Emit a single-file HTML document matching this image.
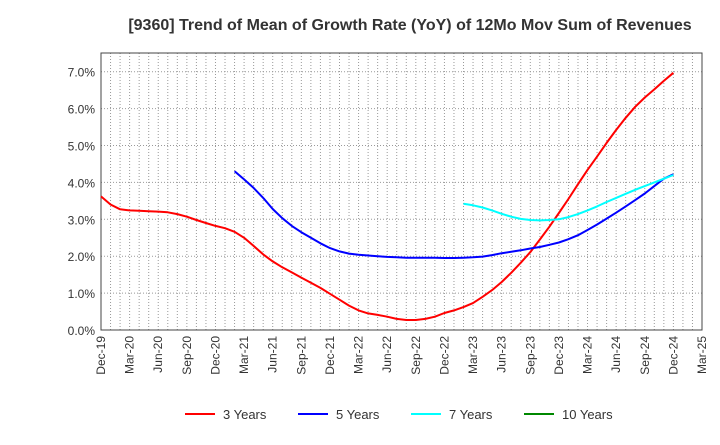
<!DOCTYPE html>
<html><head><meta charset="utf-8"><style>
body{margin:0;background:#fff;font-family:"Liberation Sans",sans-serif;}
svg text{font-family:"Liberation Sans",sans-serif;}
</style></head><body>
<svg id="c" width="720" height="440" xmlns="http://www.w3.org/2000/svg">
<text x="410" y="30" text-anchor="middle" font-size="16" font-weight="bold" fill="#333">[9360]  Trend of Mean of Growth Rate (YoY) of 12Mo Mov Sum of Revenues</text>
<g id="grid"></g><g id="axes"></g><g id="series"></g>
<g>
<line x1="185" y1="414" x2="215" y2="414" stroke="#f00" stroke-width="2"/><text x="223" y="419" font-size="13" fill="#333">3 Years</text>
<line x1="298" y1="414" x2="328" y2="414" stroke="#00f" stroke-width="2"/><text x="336" y="419" font-size="13" fill="#333">5 Years</text>
<line x1="411" y1="414" x2="441" y2="414" stroke="#0ff" stroke-width="2"/><text x="449" y="419" font-size="13" fill="#333">7 Years</text>
<line x1="524" y1="414" x2="554" y2="414" stroke="#080" stroke-width="2"/><text x="562" y="419" font-size="13" fill="#333">10 Years</text>
</g>
</svg>
<script>
const tickLabels=["Dec-19","Mar-20","Jun-20","Sep-20","Dec-20","Mar-21","Jun-21","Sep-21","Dec-21","Mar-22","Jun-22","Sep-22","Dec-22","Mar-23","Jun-23","Sep-23","Dec-23","Mar-24","Jun-24","Sep-24","Dec-24","Mar-25"];
const yTicks=[0,1,2,3,4,5,6,7];
const red3=[3.62,3.40,3.27,3.24,3.23,3.22,3.21,3.19,3.14,3.07,2.98,2.90,2.82,2.76,2.66,2.50,2.28,2.05,1.86,1.70,1.56,1.42,1.28,1.14,0.98,0.82,0.66,0.53,0.45,0.41,0.36,0.30,0.27,0.27,0.30,0.36,0.46,0.53,0.62,0.73,0.90,1.08,1.30,1.55,1.82,2.11,2.45,2.80,3.17,3.55,3.95,4.34,4.70,5.07,5.42,5.75,6.05,6.30,6.52,6.75,6.97];
const blue5Start=14;
const blue5=[4.30,4.08,3.85,3.58,3.28,3.03,2.82,2.65,2.50,2.35,2.22,2.13,2.07,2.04,2.02,2.00,1.98,1.97,1.96,1.96,1.96,1.96,1.95,1.95,1.96,1.97,1.99,2.03,2.08,2.12,2.16,2.21,2.25,2.31,2.37,2.46,2.57,2.71,2.86,3.02,3.18,3.35,3.52,3.70,3.90,4.10,4.22];
const cyan7Start=38;
const cyan7=[3.42,3.38,3.32,3.24,3.15,3.07,3.01,2.98,2.97,2.98,3.00,3.06,3.14,3.24,3.35,3.47,3.58,3.69,3.80,3.90,4.00,4.10,4.20];
const NS="http://www.w3.org/2000/svg";
const L=101,R=702,T=53,B=330,months=63;
const xs=m=>L+(R-L)*m/months;
const ys=v=>B-v*36.9;
function mk(tag,attrs,parent){const e=document.createElementNS(NS,tag);for(const k in attrs)e.setAttribute(k,attrs[k]);parent.appendChild(e);return e;}
const grid=document.getElementById('grid'),axes=document.getElementById('axes'),ser=document.getElementById('series');
for(let m=1;m<months;m++){const l=mk('line',{x1:xs(m),x2:xs(m),y1:T,y2:B,stroke:'#999','stroke-dasharray':'1,2','stroke-width':1},grid);

}
yTicks.forEach(v=>{if(v>0){const l=mk('line',{x1:L,x2:R,y1:ys(v),y2:ys(v),stroke:'#999','stroke-dasharray':'1,2'},grid);

}
const t=mk('text',{x:L-6,y:ys(v)+5,'text-anchor':'end','font-size':12,fill:'#333'},axes);t.textContent=v.toFixed(1)+'%';

});
const fr=mk('rect',{x:L,y:T,width:R-L,height:B-T,fill:'none',stroke:'#444','stroke-width':1},axes);


tickLabels.forEach((s,i)=>{const x=xs(i*3);const t=mk('text',{x:0,y:0,transform:`translate(${x+4},336) rotate(-90)`,'text-anchor':'end','font-size':12,fill:'#333'},axes);t.textContent=s;

});
function line(arr,start,color,name){const pts=arr.map((v,i)=>xs(start+i).toFixed(1)+','+ys(v).toFixed(1)).join(' ');
const p=mk('polyline',{points:pts,fill:'none',stroke:color,'stroke-width':2,'stroke-linejoin':'round'},ser);

}
line(red3,0,'#f00','line-3-years');
line(blue5,blue5Start,'#00f','line-5-years');
line(cyan7,cyan7Start,'#0ff','line-7-years');
</script>
</body></html>
